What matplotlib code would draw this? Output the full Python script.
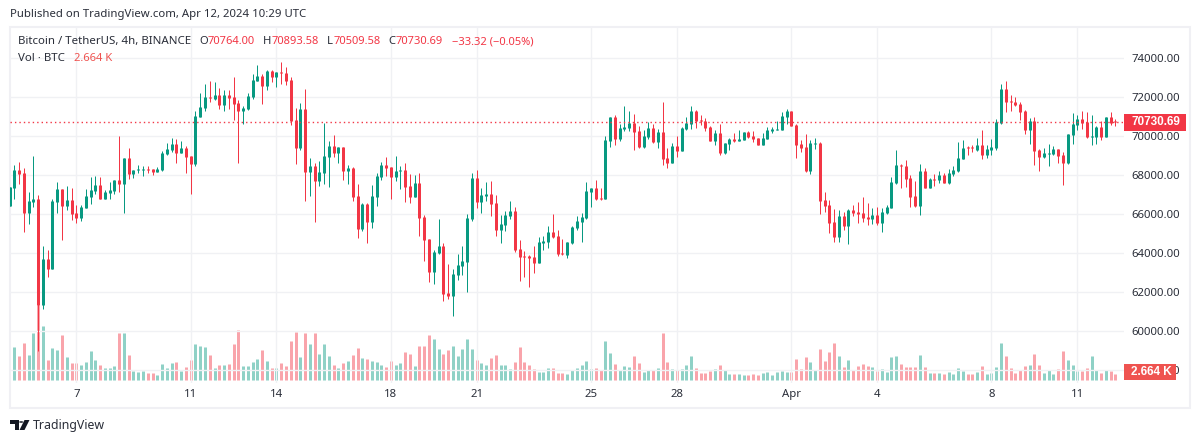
import numpy as np
import matplotlib
matplotlib.use("Agg")
import matplotlib.pyplot as plt
from matplotlib.patches import Rectangle, Polygon, Circle

W, H = 1200, 443
FONT = "Noto Sans"
plt.rcParams["font.family"] = FONT

UP = "#089981"
DOWN = "#F23645"
GRID = "#F0F1F4"
INK = "#2A2E39"

opens = [66430,
67350,68270,68120,66070,66630,66780,61350,63710,63190,66630,
67300,66430,66730,66070,65810,66320,66890,67190,67500,66780,
67090,67190,67760,67550,68890,68070,68270,68270,68320,68320,
68170,68270,69090,69300,69610,69140,69400,68990,68580,70990,
71450,72020,71910,72120,71610,72120,72020,71710,71300,71400,
72020,72840,73090,72580,73350,73040,73300,73250,72890,70840,
69400,71400,68170,68480,67710,68120,68940,69500,69140,69450,
68220,68370,66940,65250,66530,65610,66890,67910,68530,68430,
67910,68220,68270,67450,66890,67600,65860,64730,63040,64020,
64370,61960,61810,62890,63350,63550,65760,67860,66630,66940,
67040,66580,65200,65450,65910,66170,64220,63860,63860,63810,
63500,64530,64580,65090,64890,64020,63910,64530,65300,65610,
65810,67140,67350,66840,66780,69760,70990,69860,70370,70430,
70680,70270,69450,69960,70430,69710,70220,68890,68630,69500,
69250,70370,70630,71300,70840,70780,70480,69760,70170,69140,
69610,69860,69760,69810,70220,70020,69910,69550,69860,70270,
70320,70320,70990,71300,70580,69600,69450,68220,69610,69660,
66730,66480,65610,64840,65910,65400,66220,66120,66070,65860,
65760,65960,65550,66070,66320,67600,68530,68480,67860,66940,
66430,68220,67350,67810,67760,68020,67600,68070,68220,68840,
69450,69450,69300,69550,69040,69300,69400,70680,72430,71810,
71760,71660,71300,70320,70780,69300,68940,69090,69090,69350,
69040,68630,70070,70580,70890,70730,69960,69960,70480,69960,
70990,70764.00]

highs = [67420,
68530,68680,68370,67140,68990,66990,64370,64170,66780,67660,
67300,67450,67350,66480,66480,67300,67910,67960,67910,67250,
67660,67760,70020,68890,69400,68270,68530,68480,68480,68320,
68430,69250,69660,69910,69860,69760,69500,68990,71300,72220,
72680,72840,72780,72480,72370,72370,73040,71860,71550,72220,
73200,73660,73200,73400,73400,73300,73810,73550,73040,71450,
71710,72430,68890,68630,68730,70680,69760,70070,69450,69450,
68530,68430,67550,66580,66580,67500,68120,68680,68940,68430,
68990,68480,68630,68070,68020,68120,65960,64730,64170,65760,
64530,63450,63190,63960,64370,66020,68120,68270,67350,67660,
67710,66990,65960,66170,66680,66370,64680,64120,63910,64370,
64840,64890,65400,66020,65200,64730,64580,65400,65910,66070,
67660,67350,67760,67350,70020,70990,71090,70630,71550,71300,
71140,70530,70320,70730,70630,70370,71760,69400,69660,70020,
70480,70990,71550,71350,71090,70940,70530,70320,70630,69660,
69910,70170,70320,70220,70270,70270,69910,70170,70480,70480,
70780,71250,71400,71300,70630,69810,70120,69810,69910,69710,
67140,66730,66270,66220,66120,66270,66480,66630,66890,66580,
66320,66370,66320,66480,67910,69300,68580,68780,68020,67710,
68580,68370,67860,68070,68220,68120,68320,68480,69710,69810,
69500,69550,69910,70320,69550,69860,70890,72680,72840,72120,
72020,71760,71350,70940,70990,69350,69400,69610,69500,69350,
69190,70120,71190,71090,71300,71250,71090,70530,70780,70990,
71250,70893.58]

lows = [66430,
66780,67550,65090,65500,66370,58990,61140,62780,63190,66070,
64680,66220,65710,65550,65660,66320,66530,67040,66780,66780,
66780,67040,67140,66070,67810,67860,68120,67960,68120,68020,
68170,68220,69040,69190,68630,69140,68120,67040,68480,70990,
71300,71760,71860,71400,71300,71400,70840,68630,70630,71350,
71910,72840,71660,72370,72780,72530,72680,72630,70580,68580,
69300,66680,66940,65610,67450,67550,67400,68940,68630,67760,
67550,66680,64780,65140,64530,65300,66430,67760,67960,66780,
67710,67300,66630,66580,66890,64890,63600,62530,62430,63960,
61550,61660,60780,62630,62890,62020,65660,66320,66070,66680,
65910,64890,64530,65140,65760,64070,62580,62780,62270,62990,
63500,64170,64270,64780,63860,63910,63760,64480,65200,64580,
65760,66370,66730,66730,66780,69450,69550,69760,70270,70270,
69300,69400,69400,69860,69660,69400,68530,68370,68630,68940,
69250,70320,70370,70430,70580,70270,69760,69550,69040,69090,
69300,69710,69760,69810,69910,69710,69550,69550,69860,70170,
70320,70320,70630,70530,68890,69190,68170,68070,69350,66020,
66120,65040,64580,64580,65200,64480,65910,65550,65610,65450,
65500,65450,65090,66020,66320,67550,67350,67400,66370,66370,
65960,67350,67350,67450,67600,67600,67550,67960,68170,68840,
69040,69190,69250,68840,68890,69040,69300,70630,71250,71300,
71550,70840,70120,69610,68530,68220,68890,68480,69040,68630,
67500,68580,69610,70320,70370,69910,69550,69610,69810,69960,
70580,70509.58]

closes = [67420,
68270,68070,66070,66680,66780,61350,63710,63190,66680,67300,
66430,66730,66020,65810,66370,66940,67250,67500,66780,67140,
67250,67760,67550,68890,68070,68270,68320,68320,68270,68170,
68320,69140,69350,69610,69140,69400,68940,68580,71040,71500,
72020,71960,72120,71610,72120,71960,71660,71300,71450,72070,
72890,73090,72580,73350,73040,73300,73250,72840,70780,69400,
71400,68170,68480,67710,68170,68990,69500,69140,69450,68220,
68370,66890,65250,66530,65610,66940,67960,68530,68370,67910,
68220,68270,67400,66890,67600,65810,64680,63040,64070,64370,
61910,61810,62940,63400,63600,65810,67860,66630,66990,67040,
66530,65200,65500,65960,66170,64170,63810,63810,63760,63500,
64580,64630,65090,64840,63960,63960,64580,65350,65660,65860,
67190,67350,66780,66780,69810,70990,69860,70430,70480,70680,
70220,69450,70020,70430,69710,70220,68840,68630,69500,69250,
70430,70680,71300,70780,70780,70430,69760,70170,69140,69660,
69860,69760,69860,70220,69960,69860,69550,69910,70320,70370,
70370,71040,71300,70530,69550,69400,68220,69660,69660,66680,
66430,65550,64840,65910,65400,66220,66070,66020,65810,65760,
65960,65550,66120,66370,67660,68530,68480,67810,66890,66430,
68220,67350,67810,67760,68020,67600,68120,68270,68890,69400,
69400,69400,69550,69040,69350,69450,70730,72430,71760,71760,
71610,71250,70320,70780,69250,68940,69140,69140,69350,68990,
68630,70120,70630,70890,70680,69960,70020,70480,69960,70990,
70680,70730.69]

# volume in thousands of BTC, one per candle; the first candle's bar is off the pane
volumes = [np.nan,
14.7,10.7,16.4,11.1,20.9,33.3,24.0,8.9,14.2,13.3,
20.0,10.2,7.5,7.5,6.7,8.0,12.9,8.9,6.7,5.3,
5.3,6.2,20.9,20.9,11.1,4.0,3.6,4.0,3.1,3.1,
2.2,7.1,5.3,7.5,8.0,4.0,5.8,8.9,16.0,15.1,
14.7,11.1,5.3,6.7,6.7,7.1,16.0,22.2,6.2,6.2,
8.0,9.3,13.3,8.4,5.3,5.3,7.5,6.2,17.3,21.3,
10.2,20.9,16.0,20.9,11.5,16.0,10.7,6.7,5.3,7.5,
8.4,11.1,14.2,9.8,9.3,8.4,8.0,6.7,5.8,8.4,
6.7,7.5,12.4,11.5,6.2,15.1,15.1,20.0,18.2,13.8,
11.5,13.3,15.1,10.7,13.8,18.2,13.8,8.9,7.5,6.7,
9.8,11.1,6.7,6.7,4.9,8.0,14.7,8.0,6.7,4.9,
3.6,3.6,5.3,5.3,3.1,3.1,2.7,4.4,5.3,6.7,
8.4,4.9,5.3,4.4,17.3,12.0,7.1,4.4,6.2,5.8,
10.7,7.5,3.6,4.4,4.4,5.3,20.9,8.0,4.9,4.4,
4.9,6.7,10.7,5.3,3.1,3.1,4.0,4.9,6.7,4.4,
2.7,2.7,2.7,2.2,2.2,2.7,2.2,3.1,3.6,2.2,
3.6,4.0,3.6,3.6,9.3,4.9,10.2,8.0,4.4,13.8,
8.4,12.4,16.4,10.7,5.8,8.9,4.4,6.2,7.1,6.2,
5.8,4.0,4.9,3.6,10.2,10.7,7.1,5.8,5.8,5.8,
11.1,5.8,3.1,3.1,3.1,2.7,3.6,2.7,5.3,4.0,
2.7,2.7,3.6,6.2,2.7,3.1,5.8,16.4,10.7,5.3,
3.1,4.4,6.2,6.7,11.5,6.7,3.1,4.4,2.7,4.9,
12.9,8.9,6.7,4.0,4.0,5.3,10.7,4.4,3.1,4.4,
4.0,2.664]

date_positions = [14, 38, 56, 80, 98, 122, 140, 164, 182, 206, 224]
date_labels = ["7", "11", "14", "18", "21", "25", "28", "Apr", "4", "8", "11"]
price_ticks = list(range(58000, 76000, 2000))
last_price = closes[-1]

opens, highs, lows, closes, volumes = map(np.array, (opens, highs, lows, closes, volumes))
idx = np.arange(len(closes))
rising = closes >= opens
colors = np.where(rising, UP, DOWN)

def fx(x): return x / W
def fy(y): return 1 - y / H

fig = plt.figure(figsize=(W / 100, H / 100), dpi=100, facecolor="white")
PL, PR, PT, PB = 10, 1124, 27, 383
rect = [fx(PL), fy(PB), (PR - PL) / W, (PB - PT) / H]
PX = 72 / 100  # points per pixel

# outer frame, behind the panes
fig.add_artist(Rectangle((fx(10), fy(407.5)), 1180 / W, 380.5 / H, transform=fig.transFigure,
                         fill=False, ec="#F0F0F4", lw=1.5, zorder=-1))

ax_vol = fig.add_axes(rect, zorder=1)
ax_vol.patch.set_visible(False)
ax_vol.axis("off")
ax = fig.add_axes(rect, zorder=2)
ax.patch.set_visible(False)

xlim = (0.098, 233.8)
ax.set_xlim(*xlim)
ax_vol.set_xlim(*xlim)
ax.set_ylim(57352, 75605)
ax_vol.set_ylim(-1.33, 156.7)

# volume bars and candle bodies as butt-capped thick lines, snapped so every one is 3 px wide
vol_bars = ax_vol.vlines(idx, 0, volumes, colors=colors, linewidth=3 * PX, alpha=0.45)
vol_bars.set_capstyle("butt")
vol_bars.set_snap(True)

wicks = ax.vlines(idx, lows, highs, colors=colors, linewidth=1 * PX, zorder=3)
wicks.set_snap(True)
body_low = np.minimum(opens, closes)
body_high = np.maximum(np.maximum(opens, closes), body_low + 60)
bodies = ax.vlines(idx, body_low, body_high, colors=colors, linewidth=3 * PX, zorder=4)
bodies.set_capstyle("butt")
bodies.set_snap(True)

ax.axhline(last_price, color=DOWN, linewidth=1.0, linestyle=(0, (1, 2.2)), zorder=5)

for s in ax.spines.values():
    s.set_visible(False)
ax.yaxis.tick_right()
ax.set_yticks(price_ticks)
ax.set_yticklabels([f"{p:.2f}" for p in price_ticks])
ax.set_xticks(date_positions)
ax.set_xticklabels(date_labels)
ax.tick_params(axis="both", length=0, labelsize=8.2, labelcolor=INK)
ax.tick_params(axis="y", pad=5.5)
ax.tick_params(axis="x", pad=4.5)
ax.grid(True, color=GRID, linewidth=1.0, zorder=0)
ax.set_axisbelow(True)

def ptext(x, y, s, color=INK, size=8.2, weight="normal", ha="left", z=8, family=FONT):
    fig.text(fx(x), fy(y), s, color=color, fontsize=size, fontweight=weight,
             ha=ha, va="center", zorder=z, family=family)

# last-price and last-volume tags
fig.add_artist(Rectangle((fx(1124), fy(130.7)), 62 / W, 16.7 / H, transform=fig.transFigure,
                         fc=DOWN, ec="none", zorder=6))
ptext(1156, 122.3, f"{last_price:.2f}", color="white", size=8.5, weight="bold", ha="center",
      family="Liberation Sans")
fig.add_artist(Rectangle((fx(1124), fy(380)), 52 / W, 16 / H, transform=fig.transFigure,
                         fc="#EF5350", ec="none", zorder=6))
ptext(1151, 372, "2.664 K", color="white", size=8.5, weight="bold", ha="center",
      family="Liberation Sans")

# header and legend
ptext(10, 14.5, "Published on TradingView.com, Apr 12, 2024 10:29 UTC", size=8.2)
ptext(18, 41.5, "Bitcoin / TetherUS, 4h, BINANCE", size=8.25)
for x, s in [(199, "O"), (263, "H"), (327, "L"), (388, "C")]:
    ptext(x, 41.5, s, size=8.1)
for x, s in [(207.5, "70764.00"), (271.5, "70893.58"), (333.5, "70509.58"),
             (396, "70730.69"), (452, "\u221233.32 (\u22120.05%)")]:
    ptext(x, 41.5, s, color=DOWN, size=8.0)
ptext(18, 58.5, "Vol \u00b7 BTC", size=8.25)
ptext(74, 58.5, "2.664 K", color="#EF5350", size=8.1)

# TradingView mark
LOGO = "#131722"
def poly(points):
    fig.add_artist(Polygon([(fx(x), fy(y)) for x, y in points], closed=True,
                           transform=fig.transFigure, fc=LOGO, ec="none", zorder=6))
poly([(10, 420), (19, 420), (19, 430), (14.5, 430), (14.5, 424), (10, 424)])
poly([(24.5, 420), (29.5, 420), (24.5, 430), (19.5, 430)])
fig.add_artist(Circle((fx(21.2), fy(422)), 2.1 / W, transform=fig.transFigure, fc=LOGO, ec="none", zorder=6))
ptext(33, 425, "TradingView", color=INK, size=8.9)

fig.savefig("out.png", dpi=100, facecolor="white")
